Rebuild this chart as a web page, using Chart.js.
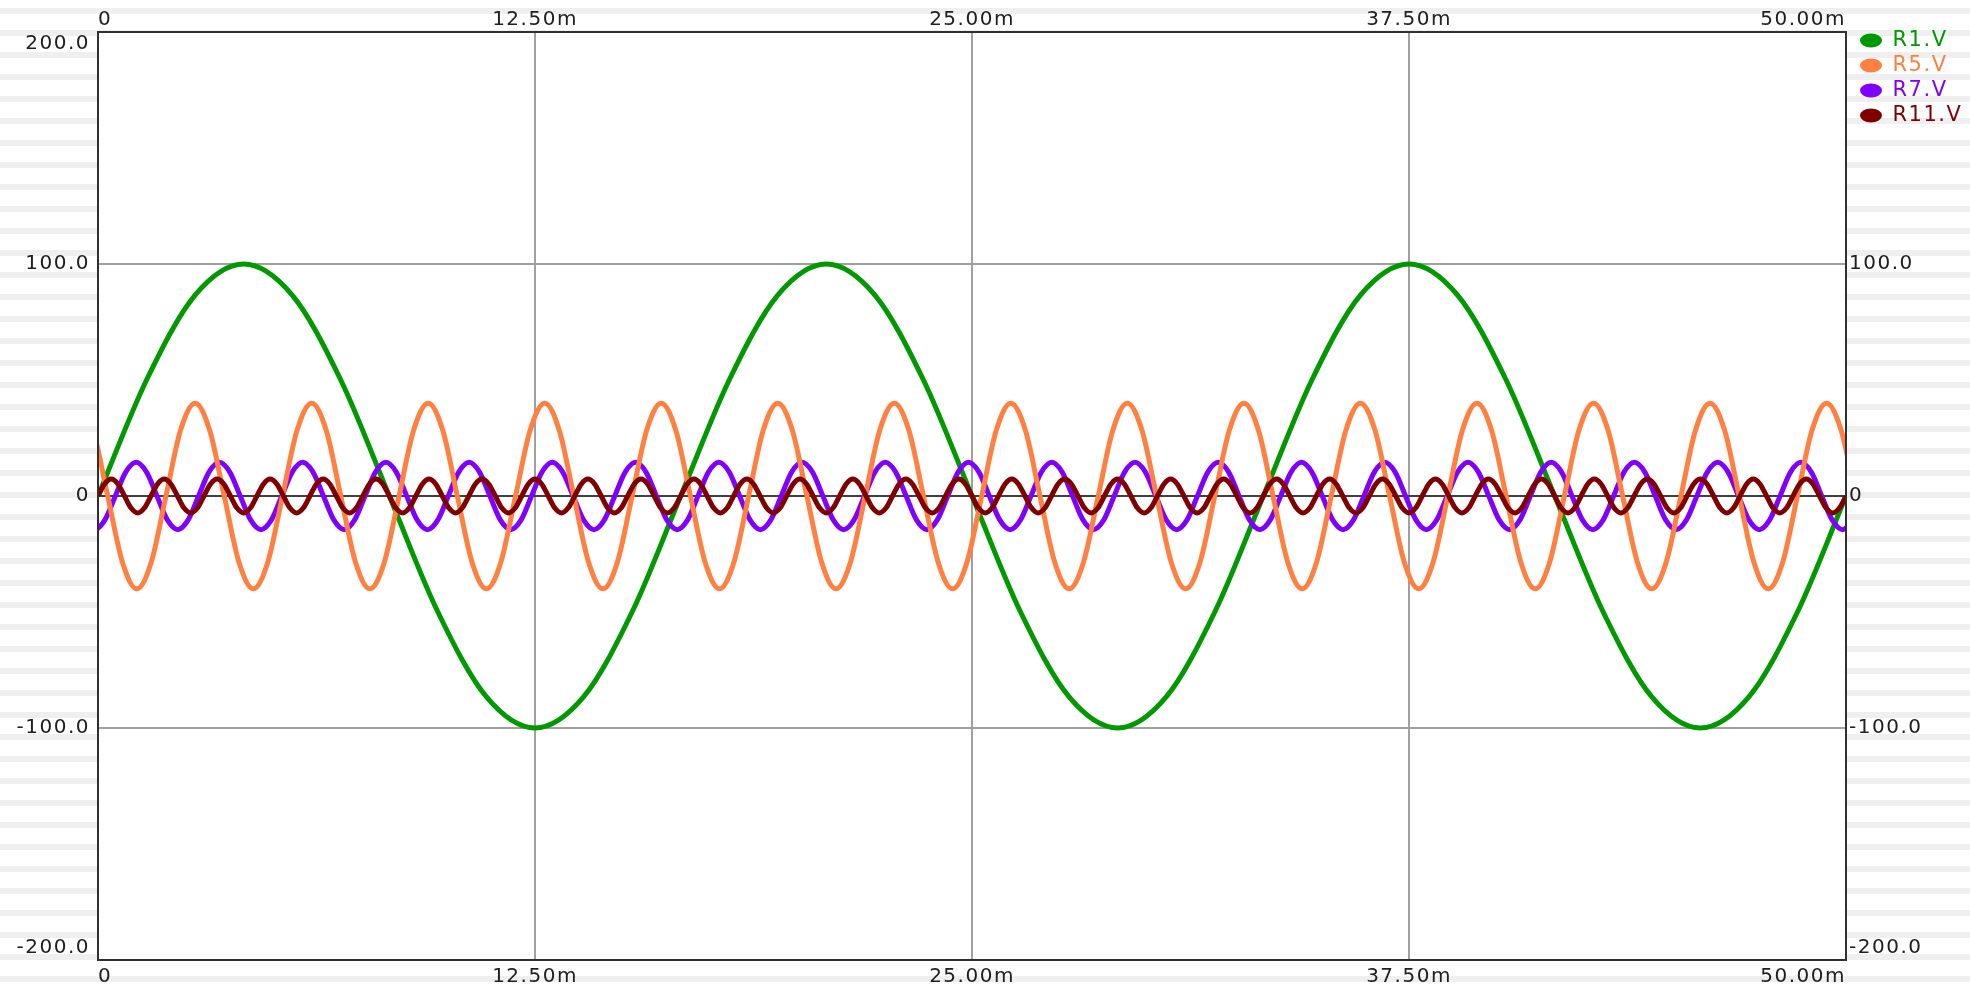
<!DOCTYPE html>
<html>
<head>
<meta charset="utf-8">
<title>R1.V R5.V R7.V R11.V</title>
<script src="https://cdn.jsdelivr.net/npm/chart.js@4.4.1/dist/chart.umd.min.js"></script>
<style>
  html, body { margin: 0; padding: 0; }
  body {
    width: 1970px;
    height: 992px;
    overflow: hidden;
    background: repeating-linear-gradient(to bottom, #fff 0px, #fff 8px, #efefef 8px, #efefef 14px, #fff 14px, #fff 22px);
  }
  canvas { display: block; }
</style>
</head>
<body>
<canvas id="waveChart" width="1970" height="992"></canvas>
<script>
// time axis in ms, voltages in V
const xTicks = [0, 12.5, 25, 37.5, 50];
const xTickLabels = ['0', '12.50m', '25.00m', '37.50m', '50.00m'];
const yTicks = [-200, -100, 0, 100, 200];
const yTickLabels = ['-200.0', '-100.0', '0', '100.0', '200.0'];

const seriesNames = ['R1.V', 'R5.V', 'R7.V', 'R11.V'];

// sample times (ms): first sample and spacing for each trace
const r1Start = 0, r1Step = 1.38889;
const r5Start = -1.38889, r5Step = 0.416667;
const r7Start = -1.88492, r7Step = 0.297619;
const r11Start = 0, r11Step = 0.189394;

const r1Values = [
  0, 50, 86.6, 100, 86.6, 50, 0, -50, -86.6, -100, -86.6, -50,
  0, 50, 86.6, 100, 86.6, 50, 0, -50, -86.6, -100, -86.6, -50,
  0, 50, 86.6, 100, 86.6, 50, 0, -50, -86.6, -100, -86.6, -50,
  0
];

const r5Values = [
  0, 28.3, 40, 28.3, 0, -28.3, -40, -28.3, 0, 28.3, 40, 28.3, 0, -28.3, -40, -28.3,
  0, 28.3, 40, 28.3, 0, -28.3, -40, -28.3, 0, 28.3, 40, 28.3, 0, -28.3, -40, -28.3,
  0, 28.3, 40, 28.3, 0, -28.3, -40, -28.3, 0, 28.3, 40, 28.3, 0, -28.3, -40, -28.3,
  0, 28.3, 40, 28.3, 0, -28.3, -40, -28.3, 0, 28.3, 40, 28.3, 0, -28.3, -40, -28.3,
  0, 28.3, 40, 28.3, 0, -28.3, -40, -28.3, 0, 28.3, 40, 28.3, 0, -28.3, -40, -28.3,
  0, 28.3, 40, 28.3, 0, -28.3, -40, -28.3, 0, 28.3, 40, 28.3, 0, -28.3, -40, -28.3,
  0, 28.3, 40, 28.3, 0, -28.3, -40, -28.3, 0, 28.3, 40, 28.3, 0, -28.3, -40, -28.3,
  0, 28.3, 40, 28.3, 0, -28.3, -40, -28.3,
  0, 28.3, 40, 28.3, 0
];

const r7Values = [
  0, 10.3, 14.5, 10.3, 0, -10.3, -14.5, -10.3, 0, 10.3, 14.5, 10.3, 0, -10.3, -14.5, -10.3,
  0, 10.3, 14.5, 10.3, 0, -10.3, -14.5, -10.3, 0, 10.3, 14.5, 10.3, 0, -10.3, -14.5, -10.3,
  0, 10.3, 14.5, 10.3, 0, -10.3, -14.5, -10.3, 0, 10.3, 14.5, 10.3, 0, -10.3, -14.5, -10.3,
  0, 10.3, 14.5, 10.3, 0, -10.3, -14.5, -10.3, 0, 10.3, 14.5, 10.3, 0, -10.3, -14.5, -10.3,
  0, 10.3, 14.5, 10.3, 0, -10.3, -14.5, -10.3, 0, 10.3, 14.5, 10.3, 0, -10.3, -14.5, -10.3,
  0, 10.3, 14.5, 10.3, 0, -10.3, -14.5, -10.3, 0, 10.3, 14.5, 10.3, 0, -10.3, -14.5, -10.3,
  0, 10.3, 14.5, 10.3, 0, -10.3, -14.5, -10.3, 0, 10.3, 14.5, 10.3, 0, -10.3, -14.5, -10.3,
  0, 10.3, 14.5, 10.3, 0, -10.3, -14.5, -10.3, 0, 10.3, 14.5, 10.3, 0, -10.3, -14.5, -10.3,
  0, 10.3, 14.5, 10.3, 0, -10.3, -14.5, -10.3, 0, 10.3, 14.5, 10.3, 0, -10.3, -14.5, -10.3,
  0, 10.3, 14.5, 10.3, 0, -10.3, -14.5, -10.3, 0, 10.3, 14.5, 10.3, 0, -10.3, -14.5, -10.3,
  0, 10.3, 14.5, 10.3, 0, -10.3, -14.5, -10.3, 0, 10.3, 14.5, 10.3, 0, -10.3, -14.5, -10.3
];

const r11Values = [
  0, 5.2, 7.3, 5.2, 0, -5.2, -7.3, -5.2, 0, 5.2, 7.3, 5.2, 0, -5.2, -7.3, -5.2,
  0, 5.2, 7.3, 5.2, 0, -5.2, -7.3, -5.2, 0, 5.2, 7.3, 5.2, 0, -5.2, -7.3, -5.2,
  0, 5.2, 7.3, 5.2, 0, -5.2, -7.3, -5.2, 0, 5.2, 7.3, 5.2, 0, -5.2, -7.3, -5.2,
  0, 5.2, 7.3, 5.2, 0, -5.2, -7.3, -5.2, 0, 5.2, 7.3, 5.2, 0, -5.2, -7.3, -5.2,
  0, 5.2, 7.3, 5.2, 0, -5.2, -7.3, -5.2, 0, 5.2, 7.3, 5.2, 0, -5.2, -7.3, -5.2,
  0, 5.2, 7.3, 5.2, 0, -5.2, -7.3, -5.2, 0, 5.2, 7.3, 5.2, 0, -5.2, -7.3, -5.2,
  0, 5.2, 7.3, 5.2, 0, -5.2, -7.3, -5.2, 0, 5.2, 7.3, 5.2, 0, -5.2, -7.3, -5.2,
  0, 5.2, 7.3, 5.2, 0, -5.2, -7.3, -5.2, 0, 5.2, 7.3, 5.2, 0, -5.2, -7.3, -5.2,
  0, 5.2, 7.3, 5.2, 0, -5.2, -7.3, -5.2, 0, 5.2, 7.3, 5.2, 0, -5.2, -7.3, -5.2,
  0, 5.2, 7.3, 5.2, 0, -5.2, -7.3, -5.2, 0, 5.2, 7.3, 5.2, 0, -5.2, -7.3, -5.2,
  0, 5.2, 7.3, 5.2, 0, -5.2, -7.3, -5.2, 0, 5.2, 7.3, 5.2, 0, -5.2, -7.3, -5.2,
  0, 5.2, 7.3, 5.2, 0, -5.2, -7.3, -5.2, 0, 5.2, 7.3, 5.2, 0, -5.2, -7.3, -5.2,
  0, 5.2, 7.3, 5.2, 0, -5.2, -7.3, -5.2, 0, 5.2, 7.3, 5.2, 0, -5.2, -7.3, -5.2,
  0, 5.2, 7.3, 5.2, 0, -5.2, -7.3, -5.2, 0, 5.2, 7.3, 5.2, 0, -5.2, -7.3, -5.2,
  0, 5.2, 7.3, 5.2, 0, -5.2, -7.3, -5.2, 0, 5.2, 7.3, 5.2, 0, -5.2, -7.3, -5.2,
  0, 5.2, 7.3, 5.2, 0, -5.2, -7.3, -5.2, 0, 5.2, 7.3, 5.2, 0, -5.2, -7.3, -5.2,
  0, 5.2, 7.3, 5.2, 0, -5.2, -7.3, -5.2,
  0
];

const colors = ['#009900', '#ff8040', '#8000ff', '#800000'];

function samples(start, step, values) {
  return values.map((v, i) => ({ x: start + i * step, y: v }));
}

const fontFamily = '"DejaVu Sans", sans-serif';
const tickFont = { family: fontFamily, size: 20 };
const ink = '#202020';
const frame = { display: true, color: '#303030', width: 2, z: 1 };

// white plot area over the striped page, wider lettering,
// and the legend moved into the right margin next to the frame
const plotArea = {
  id: 'plotArea',
  beforeUpdate(chart) { chart.ctx.letterSpacing = '1.5px'; },
  afterLayout(chart) {
    chart.legend.left = chart.chartArea.right + 10;
    chart.legend.top = 26;
  },
  beforeDraw(chart) {
    const { ctx, chartArea: a } = chart;
    ctx.save();
    ctx.fillStyle = '#ffffff';
    ctx.fillRect(a.left, a.top, a.right - a.left, a.bottom - a.top);
    ctx.restore();
    ctx.letterSpacing = '1.5px';
  }
};

const setXTicks = s => { s.ticks = xTicks.map(v => ({ value: v })); };
const setYTicks = s => { s.ticks = yTicks.map(v => ({ value: v })); };
const last = yTicks.length - 1;

const line = (i, data, order) => ({
  label: seriesNames[i],
  data: data,
  borderColor: colors[i],
  backgroundColor: colors[i],
  borderWidth: 5,
  pointRadius: 0,
  cubicInterpolationMode: 'monotone',
  clip: 0,
  order: order
});

new Chart(document.getElementById('waveChart'), {
  type: 'line',
  data: {
    datasets: [
      line(0, samples(r1Start, r1Step, r1Values), 3),
      line(1, samples(r5Start, r5Step, r5Values), 1),
      line(2, samples(r7Start, r7Step, r7Values), 2),
      line(3, samples(r11Start, r11Step, r11Values), 0)
    ]
  },
  plugins: [plotArea],
  options: {
    responsive: false,
    animation: false,
    events: [],
    layout: { padding: 0 },
    scales: {
      x: {
        type: 'linear', position: 'bottom', min: 0, max: 50,
        afterFit: s => { s.height = 27; },
        afterBuildTicks: setXTicks,
        ticks: {
          align: 'inner', maxRotation: 0, autoSkip: false, padding: 5,
          color: ink, font: tickFont,
          callback: (v, i) => xTickLabels[i]
        },
        grid: { color: '#a0a0a0', lineWidth: 2, drawTicks: false },
        border: frame
      },
      x2: {
        type: 'linear', position: 'top', min: 0, max: 50,
        afterFit: s => { s.height = 31; },
        afterBuildTicks: setXTicks,
        ticks: {
          align: 'inner', maxRotation: 0, autoSkip: false, padding: 0,
          color: ink, font: tickFont,
          callback: (v, i) => xTickLabels[i]
        },
        grid: { display: false, drawTicks: false },
        border: frame
      },
      y: {
        type: 'linear', position: 'left', min: -200, max: 200,
        afterFit: s => { s.width = 98; },
        afterBuildTicks: setYTicks,
        ticks: {
          padding: 8, autoSkip: false, color: ink, font: tickFont,
          callback: (v, i) => i === 0 ? [yTickLabels[i], ''] : i === last ? ['', yTickLabels[i]] : yTickLabels[i]
        },
        grid: {
          color: c => c.tick && c.tick.value === 0 ? '#404040' : '#a0a0a0',
          lineWidth: 2,
          drawTicks: false
        },
        border: frame
      },
      y2: {
        type: 'linear', position: 'right', min: -200, max: 200,
        afterFit: s => { s.width = Math.max(0, 1970 - 1846 - s.chart.legend.width); },
        afterBuildTicks: setYTicks,
        ticks: {
          padding: 3, autoSkip: false, color: ink, font: tickFont,
          callback: (v, i) => i === 0 ? [yTickLabels[i], ''] : i === last ? null : yTickLabels[i]
        },
        grid: { display: false, drawTicks: false },
        border: frame
      }
    },
    plugins: {
      tooltip: { enabled: false },
      legend: {
        position: 'right',
        align: 'start',
        maxWidth: 1,
        labels: {
          usePointStyle: true,
          pointStyle: 'circle',
          pointStyleWidth: 22,
          boxHeight: 10,
          padding: 4,
          font: { family: fontFamily, size: 21 },
          sort: (a, b) => a.datasetIndex - b.datasetIndex,
          generateLabels: chart => Chart.defaults.plugins.legend.labels.generateLabels(chart)
            .map(item => Object.assign(item, { fontColor: item.strokeStyle, lineWidth: 0 }))
        }
      }
    }
  }
});
</script>
</body>
</html>
